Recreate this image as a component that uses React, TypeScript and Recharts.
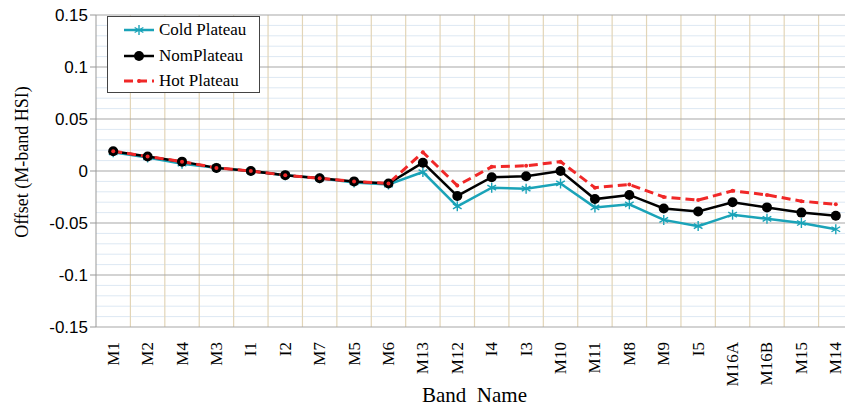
import React from "react";
import { LineChart, Line, XAxis, YAxis, CartesianGrid, ReferenceLine } from "recharts";

const bands = ["M1","M2","M4","M3","I1","I2","M7","M5","M6","M13","M12","I4","I3","M10","M11","M8","M9","I5","M16A","M16B","M15","M14"];
const coldPlateau = [0.018, 0.013, 0.007, 0.003, 0.0, -0.004, -0.007, -0.011, -0.013, -0.001, -0.034, -0.016, -0.017, -0.012, -0.035, -0.032, -0.047, -0.053, -0.042, -0.046, -0.050, -0.056];
const nomPlateau = [0.019, 0.014, 0.009, 0.003, 0.0, -0.004, -0.007, -0.010, -0.012, 0.008, -0.024, -0.006, -0.005, 0.0, -0.027, -0.023, -0.036, -0.039, -0.030, -0.035, -0.040, -0.043];
const hotPlateau = [0.019, 0.014, 0.009, 0.003, 0.0, -0.004, -0.007, -0.010, -0.012, 0.018, -0.014, 0.004, 0.005, 0.009, -0.016, -0.013, -0.025, -0.028, -0.019, -0.023, -0.029, -0.032];
const yTicks = [-0.15, -0.1, -0.05, 0, 0.05, 0.1, 0.15];
const yMinor = [-0.14,-0.13,-0.12,-0.11,-0.09,-0.08,-0.07,-0.06,-0.04,-0.03,-0.02,-0.01,0.01,0.02,0.03,0.04,0.06,0.07,0.08,0.09,0.11,0.12,0.13,0.14];

const COLD = "#1aa3b8";
const NOM = "#000000";
const HOT = "#f02828";
const SERIF = "'Liberation Serif', 'Times New Roman', serif";
const SANS = "'Liberation Sans', Arial, sans-serif";

const data = bands.map((b, i) => ({ idx: i, band: b, cold: coldPlateau[i], nom: nomPlateau[i], hot: hotPlateau[i] }));
const labelTicks = bands.map((_, i) => i);
const boundaryTicks = [-0.5, ...bands.slice(0, -1).map((_, i) => i + 0.5)];

const StarDot = (props: any) => {
  const { cx, cy } = props;
  if (cx == null || cy == null) return null;
  const r = 5;
  const dx = r * 0.866;
  const dy = r * 0.5;
  return (
    <g stroke={COLD} strokeWidth={1.4}>
      <line x1={cx} y1={cy - r} x2={cx} y2={cy + r} />
      <line x1={cx - dx} y1={cy - dy} x2={cx + dx} y2={cy + dy} />
      <line x1={cx - dx} y1={cy + dy} x2={cx + dx} y2={cy - dy} />
    </g>
  );
};

const BandTick = (props: any) => {
  const { x, y, payload } = props;
  const label = bands[payload.value];
  if (label === undefined) return null;
  return (
    <text
      x={x}
      y={y}
      transform={`rotate(-90, ${x}, ${y})`}
      textAnchor="end"
      dominantBaseline="central"
      fontFamily={SERIF}
      fontSize={17}
      fill="#000"
    >
      {label}
    </text>
  );
};

const XLabel = (props: any) => {
  const vb = props.viewBox || {};
  const cx = vb.x + vb.width / 2;
  return (
    <text x={cx} y={vb.y + 68} textAnchor="middle" dominantBaseline="central" fontFamily={SERIF} fontSize={21} fill="#000">
      {"Band\u00a0 Name"}
    </text>
  );
};

const YLabel = (props: any) => {
  const vb = props.viewBox || {};
  const x = vb.x + 22;
  const y = 162;
  return (
    <text x={x} y={y} transform={`rotate(-90, ${x}, ${y})`} textAnchor="middle" dominantBaseline="central" fontFamily={SERIF} fontSize={18} fill="#000">
      Offset (M-band HSI)
    </text>
  );
};

const legendItems = [
  { name: "Cold Plateau", kind: "cold" },
  { name: "NomPlateau", kind: "nom" },
  { name: "Hot Plateau", kind: "hot" },
];

const Swatch = ({ kind }: { kind: string }) => (
  <svg width={32} height={14} style={{ display: "block" }}>
    {kind === "cold" && (
      <g>
        <line x1={1} y1={7} x2={31} y2={7} stroke={COLD} strokeWidth={2.5} />
        <StarDot cx={16} cy={7} />
      </g>
    )}
    {kind === "nom" && (
      <g>
        <line x1={1} y1={7} x2={31} y2={7} stroke={NOM} strokeWidth={2.5} />
        <circle cx={16} cy={7} r={5} fill={NOM} />
      </g>
    )}
    {kind === "hot" && (
      <g>
        <line x1={1} y1={7} x2={31} y2={7} stroke={HOT} strokeWidth={3} strokeDasharray="9 5" />
        <circle cx={16} cy={7} r={2} fill={HOT} />
      </g>
    )}
  </svg>
);

export default function App() {
  return (
    <div style={{ position: "fixed", left: 0, top: 0, width: 845, height: 411, overflow: "hidden", background: "#fff" }}>
      <LineChart width={860} height={411} data={data} margin={{ top: 15, right: 7, left: 0, bottom: 0 }}>
        <CartesianGrid xAxisId="grid" vertical={false} horizontalValues={yMinor} stroke="#dde8f3" strokeWidth={1} />
        {boundaryTicks.slice(1).map((v) => (
          <ReferenceLine key={`v${v}`} xAxisId="grid" x={v} stroke="#e2d5b8" strokeWidth={1.2} />
        ))}
        {yTicks.map((v) => (
          <ReferenceLine key={`h${v}`} xAxisId="grid" y={v} stroke="#a8a8a8" strokeWidth={1.2} />
        ))}
        <XAxis
          xAxisId="grid"
          dataKey="idx"
          type="number"
          domain={[-0.5, 21.5]}
          ticks={boundaryTicks}
          tick={false}
          tickSize={5}
          tickLine={{ stroke: "#999" }}
          axisLine={{ stroke: "#999" }}
          height={0}
          allowDataOverflow
        />
        <XAxis
          xAxisId="lab"
          dataKey="idx"
          type="number"
          domain={[-0.5, 21.5]}
          ticks={labelTicks}
          interval={0}
          tick={<BandTick />}
          tickSize={0}
          tickMargin={15}
          tickLine={false}
          axisLine={false}
          height={84}
          label={<XLabel />}
          allowDataOverflow
        />
        <YAxis
          type="number"
          domain={[-0.15, 0.15]}
          ticks={yTicks}
          interval={0}
          width={96}
          tickSize={6}
          tickMargin={2}
          tickLine={{ stroke: "#999" }}
          axisLine={{ stroke: "#999" }}
          tick={{ fontFamily: SANS, fontSize: 17, fill: "#000" }}
          tickFormatter={(v: number) => String(Number(v.toFixed(2)))}
          label={<YLabel />}
          allowDataOverflow
        />
        <Line xAxisId="lab" type="linear" dataKey="cold" stroke={COLD} strokeWidth={2.5} dot={<StarDot />} activeDot={false} isAnimationActive={false} />
        <Line xAxisId="lab" type="linear" dataKey="nom" stroke={NOM} strokeWidth={2.5} dot={{ r: 5, fill: NOM, stroke: NOM, strokeWidth: 0 }} activeDot={false} isAnimationActive={false} />
        <Line xAxisId="lab" type="linear" dataKey="hot" stroke={HOT} strokeWidth={3} strokeDasharray="9 5" dot={{ r: 2, fill: HOT, stroke: HOT, strokeWidth: 0 }} activeDot={false} isAnimationActive={false} />
      </LineChart>
      <div
        style={{
          position: "absolute",
          left: 107,
          top: 16,
          width: 153,
          height: 77,
          boxSizing: "border-box",
          border: "1.5px solid #444",
          background: "#fff",
        }}
      >
        {legendItems.map((it, i) => (
          <div key={it.name} style={{ position: "absolute", left: 15, top: 5 + i * 25.5, height: 16, display: "flex", alignItems: "center" }}>
            <Swatch kind={it.kind} />
            <span style={{ fontFamily: SERIF, fontSize: 17, color: "#000", marginLeft: 4, lineHeight: "16px", whiteSpace: "nowrap" }}>{it.name}</span>
          </div>
        ))}
      </div>
    </div>
  );
}
